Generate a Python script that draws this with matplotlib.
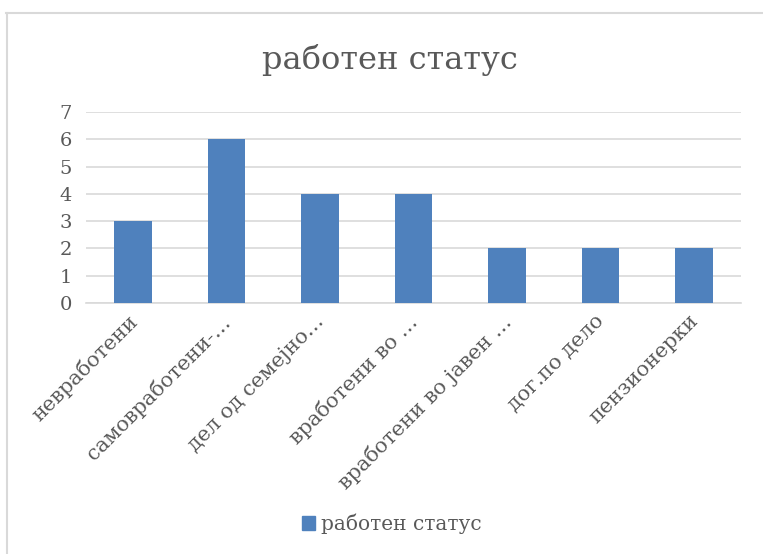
import matplotlib.pyplot as plt
import matplotlib.transforms as mtransforms
from matplotlib.lines import Line2D
from matplotlib.patches import Patch

categories = ["невработени", "самовработени-…", "дел од семејно…", "вработени во …",
              "вработени во јавен …", "дог.по дело", "пензионерки"]
values = [3, 6, 4, 4, 2, 2, 2]
series_name = "работен статус"

bar_color = "#4F81BD"
text_color = "#595959"
grid_color = "#D9D9D9"

plt.rcParams['font.family'] = ['DejaVu Serif']

fig = plt.figure(figsize=(7.63, 5.54), dpi=100)

# chart frame (only left and top edges are visible in the reference)
fig.add_artist(Line2D([7/763, 7/763], [0, 1 - 13/554], color=grid_color, lw=1.5))
fig.add_artist(Line2D([6/763, 1], [1 - 13/554, 1 - 13/554], color=grid_color, lw=1.5))

ax = fig.add_axes([86/763, 1 - 303/554, 655/763, 191/554])
x = range(len(categories))
ax.bar(x, values, width=0.4, color=bar_color, zorder=3)

ax.set_xlim(-0.5, len(categories) - 0.5)
ax.set_ylim(0, 7)
ax.set_yticks(range(8))
ax.yaxis.grid(True, color=grid_color, lw=1.2, zorder=0)
for s in ["top", "right", "left"]:
    ax.spines[s].set_visible(False)
ax.spines["bottom"].set_color(grid_color)
ax.spines["bottom"].set_linewidth(1.2)
ax.tick_params(axis="both", length=0, colors=text_color, labelsize=14)
ax.tick_params(axis="y", pad=10)

ax.set_xticks(list(x))
ax.set_xticklabels(categories, rotation=45, ha="right", rotation_mode="anchor",
                   fontsize=15, color=text_color)
ax.tick_params(axis="x", pad=6)
# nudge rotated labels a little to the left, as in the reference
shift = mtransforms.ScaledTranslation(-6/100, 0, fig.dpi_scale_trans)
for lbl in ax.get_xticklabels():
    lbl.set_transform(lbl.get_transform() + shift)

fig.text(390/763, 1 - 60/554, series_name, ha="center", va="center",
         fontsize=23, color=text_color)

fig.legend(handles=[Patch(color=bar_color, label=series_name)],
           loc="center", bbox_to_anchor=(392/763, 1 - 524/554), frameon=False,
           fontsize=14.5, labelcolor=text_color, handlelength=0.65, handleheight=0.65,
           handletextpad=0.3)

fig.savefig("out.png", dpi=100)
